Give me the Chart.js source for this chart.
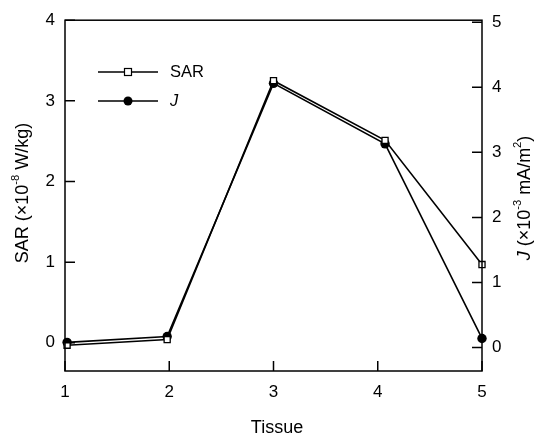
<!DOCTYPE html>
<html>
<head>
<meta charset="utf-8">
<script src="https://cdn.jsdelivr.net/npm/chart.js@4/dist/chart.umd.min.js"></script>
<style>
  html, body { margin: 0; padding: 0; background: #fff; }
  #wrap { width: 537px; height: 437px; }
</style>
</head>
<body>
<div id="wrap"><canvas id="chart" width="537" height="437"></canvas></div>
<script>
// values
var tissue   = [1.02, 1.98, 3, 4.07, 5];
var sarVals  = [-0.03, 0.04, 3.25, 2.51, 0.97];   // x10^-8 W/kg, left axis
var jVals    = [0.08, 0.17, 4.06, 3.13, 0.14];    // x10^-3 mA/m^2, right axis
var xTicks     = [1, 2, 3, 4, 5];
var leftTicks  = [0, 1, 2, 3, 4];
var rightTicks = [0, 1, 2, 3, 4, 5];

var FONT = '"Liberation Sans", Arial, sans-serif';

function toPts(xs, ys) {
    return xs.map(function(x, i){ return { x: x, y: ys[i] }; });
}

// draw a run of text pieces (some italic / superscript), centred on 0,0
function drawRich(ctx, parts, size) {
    var w = 0;
    parts.forEach(function(p){
        ctx.font = (p.it ? 'italic ' : '') + (p.sup ? size * 0.62 : size) + 'px ' + FONT;
        p.w = ctx.measureText(p.t).width;
        w += p.w;
    });
    var x = -w / 2;
    ctx.textBaseline = 'middle';
    ctx.textAlign = 'left';
    parts.forEach(function(p){
        ctx.font = (p.it ? 'italic ' : '') + (p.sup ? size * 0.62 : size) + 'px ' + FONT;
        ctx.fillText(p.t, x, p.sup ? -size * 0.4 : 0);
        x += p.w;
    });
}

var frame = {
    id: 'frame',
    afterDraw: function(chart) {
        var ctx = chart.ctx, a = chart.chartArea;
        var sx = chart.scales.x, sl = chart.scales.y, sr = chart.scales.y2;
        ctx.save();
        ctx.strokeStyle = '#000';
        ctx.lineWidth = 1.5;
        ctx.strokeRect(a.left, a.top, a.right - a.left, a.bottom - a.top);
        ctx.beginPath();
        sx.ticks.forEach(function(t){
            var px = sx.getPixelForValue(t.value);
            ctx.moveTo(px, a.bottom); ctx.lineTo(px, a.bottom - 10);
        });
        sl.ticks.forEach(function(t){
            var py = sl.getPixelForValue(t.value);
            ctx.moveTo(a.left, py); ctx.lineTo(a.left + 10, py);
        });
        sr.ticks.forEach(function(t){
            var py = sr.getPixelForValue(t.value);
            ctx.moveTo(a.right, py); ctx.lineTo(a.right - 10, py);
        });
        ctx.stroke();

        // axis titles
        ctx.fillStyle = '#000';
        ctx.save();
        ctx.translate(277, 428);
        drawRich(ctx, [{ t: 'Tissue' }], 18);
        ctx.restore();

        ctx.save();
        ctx.translate(23, 193);
        ctx.rotate(-Math.PI / 2);
        drawRich(ctx, [{ t: 'SAR (\u00d710' }, { t: '-8', sup: true }, { t: ' W/kg)' }], 18);
        ctx.restore();

        ctx.save();
        ctx.translate(525, 198);
        ctx.rotate(-Math.PI / 2);
        drawRich(ctx, [{ t: 'J', it: true }, { t: ' (\u00d710' }, { t: '-3', sup: true },
                       { t: ' mA/m' }, { t: '2', sup: true }, { t: ')' }], 18);
        ctx.restore();

        // legend
        var rows = [{ label: 'SAR', it: false, y: 72, sq: true }, { label: 'J', it: true, y: 101, sq: false }];
        rows.forEach(function(r){
            ctx.beginPath();
            ctx.lineWidth = 1.3;
            ctx.moveTo(98, r.y); ctx.lineTo(158, r.y);
            ctx.stroke();
            if (r.sq) {
                ctx.fillStyle = '#fff';
                ctx.fillRect(124.5, r.y - 3.5, 7, 7);
                ctx.lineWidth = 1.2;
                ctx.strokeRect(124.5, r.y - 3.5, 7, 7);
            } else {
                ctx.fillStyle = '#000';
                ctx.beginPath();
                ctx.arc(128, r.y, 4.5, 0, Math.PI * 2);
                ctx.fill();
            }
            ctx.fillStyle = '#000';
            ctx.font = (r.it ? 'italic ' : '') + '16.5px ' + FONT;
            ctx.textAlign = 'left';
            ctx.textBaseline = 'middle';
            ctx.fillText(r.label, 170, r.y);
        });
        ctx.restore();
    }
};

new Chart(document.getElementById('chart').getContext('2d'), {
    type: 'scatter',
    data: {
        datasets: [
            {
                label: 'SAR',
                data: toPts(tissue, sarVals),
                yAxisID: 'y',
                showLine: true,
                borderColor: '#000',
                borderWidth: 1.6,
                backgroundColor: '#fff',
                pointStyle: 'rect',
                pointRadius: 4.3,
                pointBorderWidth: 1.3,
                pointBorderColor: '#000',
                clip: false
            },
            {
                label: 'J',
                data: toPts(tissue, jVals),
                yAxisID: 'y2',
                showLine: true,
                borderColor: '#000',
                borderWidth: 1.6,
                backgroundColor: '#000',
                pointStyle: 'circle',
                pointRadius: 4.7,
                pointBorderWidth: 0,
                clip: false
            }
        ]
    },
    options: {
        responsive: false,
        animation: false,
        layout: { padding: { top: 15, left: 0, right: 0, bottom: 0 } },
        plugins: { legend: { display: false }, tooltip: { enabled: false } },
        scales: {
            x: {
                type: 'linear', min: 1, max: 5,
                afterBuildTicks: function(s){ s.ticks = xTicks.map(function(v){ return { value: v }; }); },
                afterFit: function(s){ s.height = 66; },
                grid: { display: false, drawTicks: false },
                border: { display: false },
                ticks: { color: '#000', padding: 11, font: { family: FONT, size: 17 }, maxRotation: 0 }
            },
            y: {
                type: 'linear', position: 'left', min: -0.35, max: 4,
                afterBuildTicks: function(s){ s.ticks = leftTicks.map(function(v){ return { value: v }; }); },
                afterFit: function(s){ s.width = 65; },
                grid: { display: false, drawTicks: false },
                border: { display: false },
                ticks: { color: '#000', padding: 10, font: { family: FONT, size: 17 } }
            },
            y2: {
                type: 'linear', position: 'right', min: -0.36, max: 5.03,
                afterBuildTicks: function(s){ s.ticks = rightTicks.map(function(v){ return { value: v }; }); },
                afterFit: function(s){ s.width = 55; },
                grid: { display: false, drawTicks: false },
                border: { display: false },
                ticks: { color: '#000', padding: 10, font: { family: FONT, size: 17 } }
            }
        }
    },
    plugins: [frame]
});
</script>
</body>
</html>
